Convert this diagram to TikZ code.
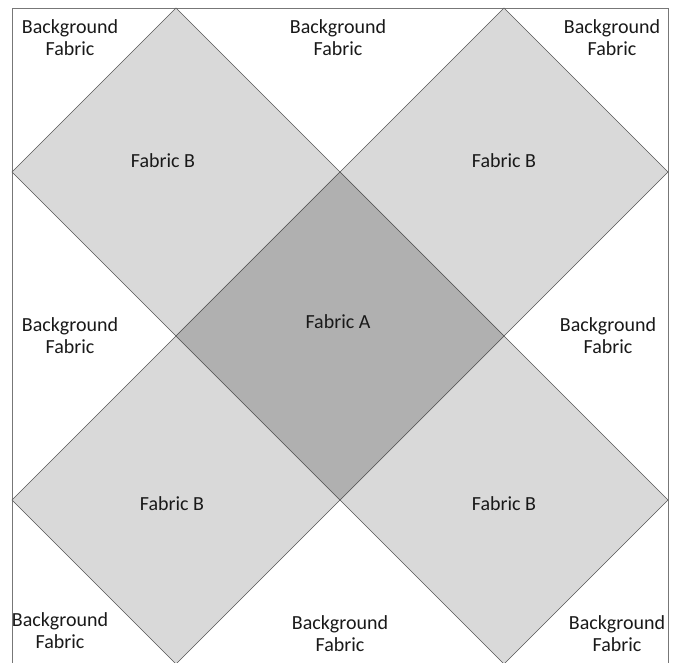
\documentclass[tikz,border=0pt]{standalone}
\usepackage{fontspec}
\setmainfont{Carlito}
\usepackage{tikz}
\usetikzlibrary{positioning}
\definecolor{fabB}{HTML}{D9D9D9}
\definecolor{fabA}{HTML}{B0B0B0}
\definecolor{seam}{HTML}{555555}
\tikzset{
  patch/.style={draw=seam,line width=0.5pt,line join=miter},
  lbl/.style={align=center,font=\fontsize{15}{16.5}\selectfont,text=black!90,inner sep=0pt}
}

\begin{document}
\begin{tikzpicture}[x=0.75pt,y=-0.75pt, line cap=round]
					\useasboundingbox (0,0) rectangle (676,662);
					\fill[white] (0,0) rectangle (676,662);
					\coordinate (TL) at (12,8);
					\coordinate (BR) at (668,664);
					% block outline
					\draw[draw=seam!80,line width=0.5pt] (TL) rectangle (BR);
					% fabric B squares on point
					\foreach \cx/\cy in {176/172, 504/172, 176/500, 504/500}
						\filldraw[patch,fill=fabB] (\cx,\cy-164) -- (\cx+164,\cy) -- (\cx,\cy+164) -- (\cx-164,\cy) -- cycle;
					% fabric A centre square
					\coordinate (N) at (340,172);
					\coordinate (E) at (504,336);
					\coordinate (S) at (340,500);
					\coordinate (W) at (176,336);
					\filldraw[patch,fill=fabA] (N) -- (E) -- (S) -- (W) -- cycle;
					% labels
					\node[lbl] (bgTL) at (70,38) {Background\\Fabric};
					\node[lbl] (bgTM) at (338,38) {Background\\Fabric};
					\node[lbl] (bgTR) at (612,38) {Background\\Fabric};
					\node[lbl] (bgML) at (70,336) {Background\\Fabric};
					\node[lbl] (bgMR) at (608,336) {Background\\Fabric};
					\node[lbl] (bgBL) at (60,631) {Background\\Fabric};
					\node[lbl] (bgBM) at (340,634) {Background\\Fabric};
					\node[lbl] (bgBR) at (617,634) {Background\\Fabric};
					\node[lbl] (fbTL) at (163,161) {Fabric B};
					\node[lbl] (fbTR) at (504,161) {Fabric B};
					\node[lbl] (fbBL) at (172,504) {Fabric B};
					\node[lbl] (fbBR) at (504,504) {Fabric B};
					\node[lbl] (fa) at (338,322) {Fabric A};
				\end{tikzpicture}
\end{document}
